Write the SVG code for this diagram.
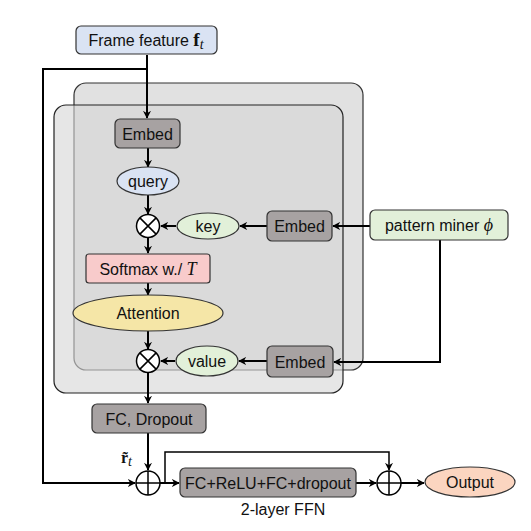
<svg xmlns="http://www.w3.org/2000/svg" width="531" height="531" viewBox="0 0 531 531">
<defs>
<marker id="ah" viewBox="0 0 10 10" refX="9" refY="5" markerWidth="8" markerHeight="8" orient="auto-start-reverse" markerUnits="userSpaceOnUse">
<path d="M0,0 L10,5 L0,10 L3,5 Z" fill="#000"/>
</marker>
<style>
text{font-family:"Liberation Sans","Open Sans",sans-serif;font-size:16px;fill:#111;}
.m{font-family:"Liberation Serif","DejaVu Serif",serif;}
.box{stroke:#333;stroke-width:1.2;}
.gray{fill:#a7a2a2;}
.ln{stroke:#000;stroke-width:2;fill:none;}
.ln1{stroke:#000;stroke-width:1.5;fill:none;}
.op{fill:#fff;stroke:#000;stroke-width:1.5;}
</style>
</defs>
<g id="panel-back"><rect x="74" y="83" width="289" height="287" rx="12" fill="#dedede" fill-opacity="0.9" stroke="#333" stroke-width="1.2"/></g>
<g id="panel-front"><rect x="54" y="105" width="289" height="288" rx="12" fill="#d6d6d6" fill-opacity="0.6" stroke="#222" stroke-width="1.2"/></g>
<g id="connectors">
<path class="ln" d="M147,55 V69 H43 V483 H135" marker-end="url(#ah)"/>
<path class="ln" d="M147,69 V118" marker-end="url(#ah)"/>
<path class="ln" d="M148,148 V167" marker-end="url(#ah)"/>
<path class="ln" d="M148,195 V214" marker-end="url(#ah)"/>
<path class="ln" d="M176,226 H161" marker-end="url(#ah)"/>
<path class="ln" d="M267,226 H240" marker-end="url(#ah)"/>
<path class="ln" d="M370,226 H333" marker-end="url(#ah)"/>
<path class="ln" d="M148,238 V253" marker-end="url(#ah)"/>
<path class="ln" d="M148,283 V295" marker-end="url(#ah)"/>
<path class="ln" d="M148,331 V349" marker-end="url(#ah)"/>
<path class="ln" d="M175,361 H161" marker-end="url(#ah)"/>
<path class="ln" d="M267,361 H239" marker-end="url(#ah)"/>
<path class="ln" d="M440,240 V362 H334" marker-end="url(#ah)"/>
<path class="ln" d="M148,373 V403" marker-end="url(#ah)"/>
<path class="ln" d="M148,433 V470" marker-end="url(#ah)"/>
<path class="ln" d="M160,483 H179" marker-end="url(#ah)"/>
<path class="ln1" d="M165,483 V452 H389 V470" marker-end="url(#ah)"/>
<path class="ln" d="M356,483 H376" marker-end="url(#ah)"/>
<path class="ln" d="M401,483 H424" marker-end="url(#ah)"/>
</g>
<g id="frame-feature"><rect class="box" x="76" y="26" width="141" height="28" rx="5" fill="#dae3f3"/><text x="146" y="46" text-anchor="middle">Frame feature <tspan class="m" font-weight="bold" font-size="19">f</tspan><tspan class="m" font-style="italic" font-size="14" dy="3">t</tspan></text></g>
<g id="embed-q"><rect class="box gray" x="115" y="119" width="65" height="29" rx="5"/><text x="147.5" y="139.5" text-anchor="middle">Embed</text></g>
<g id="query"><ellipse class="box" cx="148" cy="181" rx="31" ry="14" fill="#dae3f3"/><text x="148" y="186.5" text-anchor="middle">query</text></g>
<g id="mult1"><circle class="op" cx="148" cy="226" r="11.5"/><path d="M139.9,217.9 L156.1,234.1 M156.1,217.9 L139.9,234.1" stroke="#000" stroke-width="1.5"/></g>
<g id="key"><ellipse class="box" cx="208" cy="226" rx="31" ry="13" fill="#e2f0d9"/><text x="208" y="231.5" text-anchor="middle">key</text></g>
<g id="embed-k"><rect class="box gray" x="267" y="211" width="65" height="30" rx="5"/><text x="299.5" y="232" text-anchor="middle">Embed</text></g>
<g id="pattern-miner"><rect class="box" x="370" y="210" width="138" height="30" rx="5" fill="#e2f0d9"/><text x="439" y="231" text-anchor="middle">pattern miner <tspan class="m" font-style="italic" font-size="18">ϕ</tspan></text></g>
<g id="softmax"><rect class="box" x="86" y="254" width="124" height="29" rx="3" fill="#f8cbcb"/><text x="148" y="274.5" text-anchor="middle">Softmax w./ <tspan class="m" font-style="italic" font-size="18">T</tspan></text></g>
<g id="attention"><ellipse class="box" cx="148" cy="313" rx="75" ry="18" fill="#f5e6a7"/><text x="148" y="318.5" text-anchor="middle">Attention</text></g>
<g id="mult2"><circle class="op" cx="148" cy="361" r="11.5"/><path d="M139.9,352.9 L156.1,369.1 M156.1,352.9 L139.9,369.1" stroke="#000" stroke-width="1.5"/></g>
<g id="value"><ellipse class="box" cx="207" cy="361" rx="31" ry="15" fill="#e2f0d9"/><text x="207" y="366.5" text-anchor="middle">value</text></g>
<g id="embed-v"><rect class="box gray" x="267" y="346" width="66" height="31" rx="5"/><text x="300" y="367.5" text-anchor="middle">Embed</text></g>
<g id="fc-dropout"><rect class="box gray" x="92" y="404" width="114" height="29" rx="5"/><text x="149" y="424.5" text-anchor="middle">FC, Dropout</text></g>
<g id="rt-label"><text x="121" y="463" class="m" font-weight="bold" font-size="18">r̃<tspan font-weight="normal" font-style="italic" font-size="14" dy="3">t</tspan></text></g>
<g id="add1"><circle class="op" cx="148" cy="483" r="12"/><path d="M136,483 H160 M148,471 V495" stroke="#000" stroke-width="1.5"/></g>
<g id="ffn"><rect class="box gray" x="180" y="468" width="176" height="29" rx="5"/><text x="268" y="488.5" text-anchor="middle">FC+ReLU+FC+dropout</text><text x="283" y="515" text-anchor="middle">2-layer FFN</text></g>
<g id="add2"><circle class="op" cx="389" cy="483" r="12"/><path d="M377,483 H401 M389,471 V495" stroke="#000" stroke-width="1.5"/></g>
<g id="output"><ellipse class="box" cx="470" cy="482" rx="45" ry="15" fill="#fbd5c0"/><text x="470" y="488" text-anchor="middle" font-size="18">Output</text></g>
</svg>
